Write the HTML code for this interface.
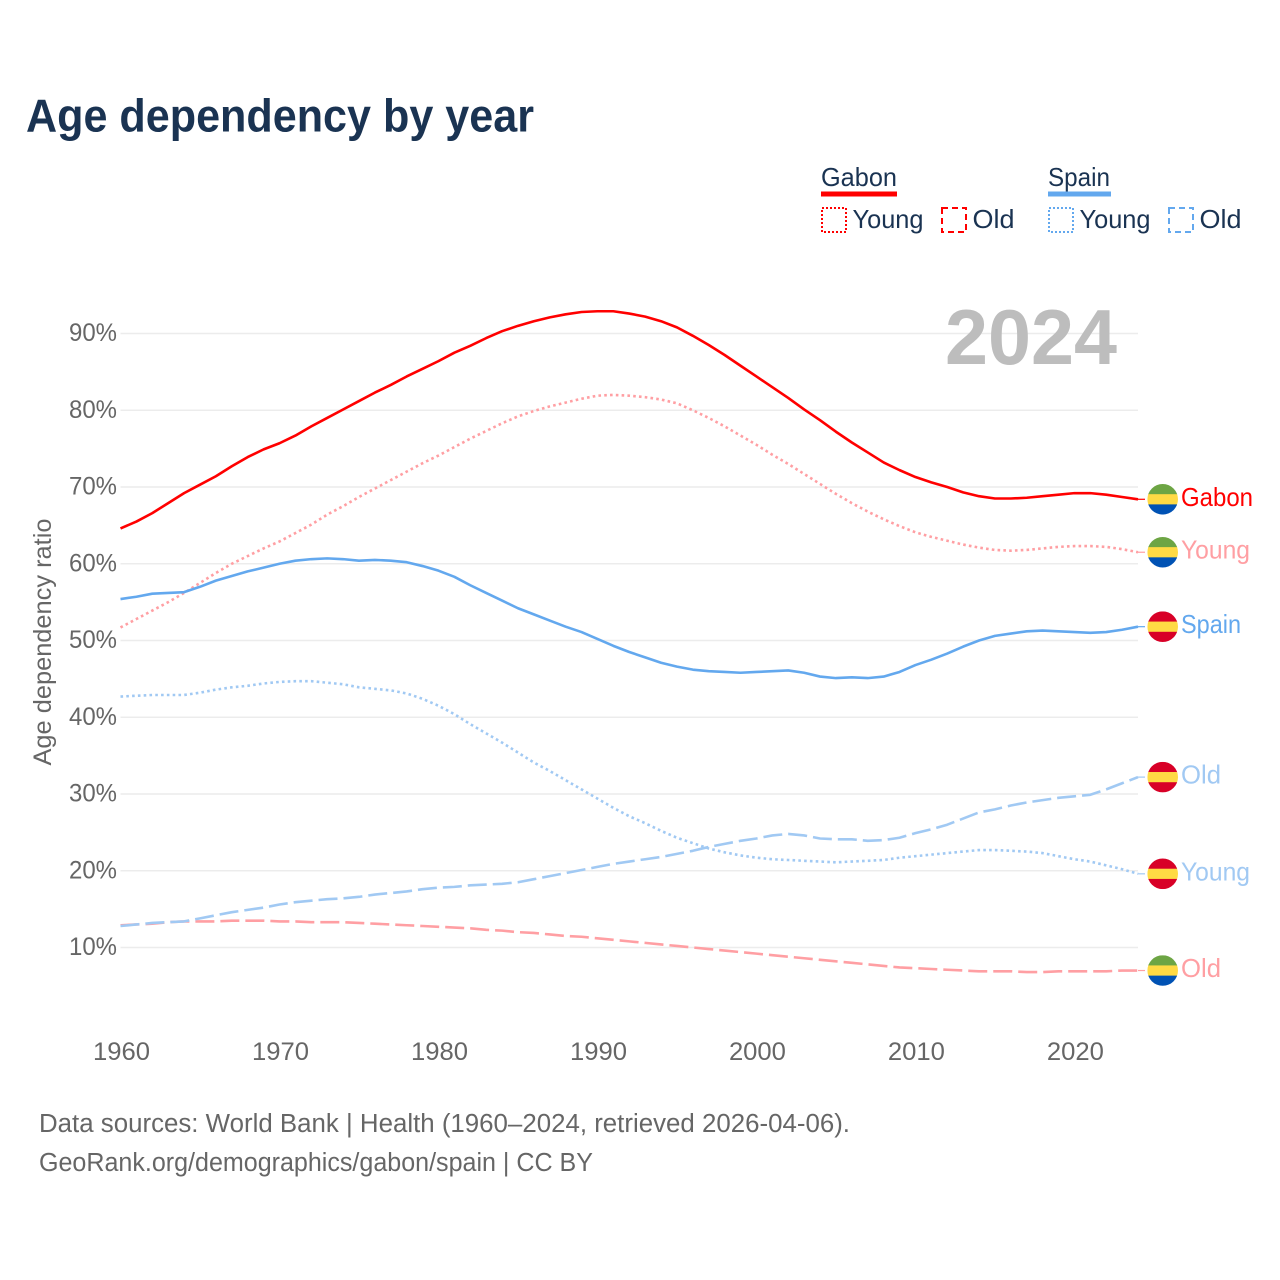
<!DOCTYPE html>
<html lang="en">
<head>
<meta charset="utf-8">
<title>Age dependency by year</title>
<style>
html,body{margin:0;padding:0;background:#fff;width:1280px;height:1280px;overflow:hidden}
svg{display:block}
text{font-family:"Liberation Sans",sans-serif}
</style>
</head>
<body>
<svg id="chart" xmlns="http://www.w3.org/2000/svg" width="1280" height="1280" viewBox="0 0 1280 1280">
  <rect width="1280" height="1280" fill="#fff"/>
  <text x="26" y="131.5" font-size="46" font-weight="700" fill="#1a3352" textLength="508" lengthAdjust="spacingAndGlyphs">Age dependency by year</text>

  <g>
    <text x="821" y="186" font-size="26" fill="#1a3352" textLength="76" lengthAdjust="spacingAndGlyphs">Gabon</text>
    <rect x="821" y="191.5" width="76" height="5" fill="#ff0000"/>
    <rect x="822" y="208" width="24" height="24" fill="none" stroke="#ff0000" stroke-width="2" stroke-dasharray="2 2"/>
    <text x="852.5" y="228" font-size="26" fill="#1a3352" textLength="71" lengthAdjust="spacingAndGlyphs">Young</text>
    <rect x="942" y="208" width="24" height="24" fill="none" stroke="#ff0000" stroke-width="2" stroke-dasharray="6 4"/>
    <text x="972.5" y="228" font-size="26" fill="#1a3352" textLength="42" lengthAdjust="spacingAndGlyphs">Old</text>

    <text x="1048" y="186" font-size="26" fill="#1a3352" textLength="62" lengthAdjust="spacingAndGlyphs">Spain</text>
    <rect x="1048" y="191.5" width="63" height="5" fill="#63a8ee"/>
    <rect x="1049" y="208" width="24" height="24" fill="none" stroke="#63a8ee" stroke-width="2" stroke-dasharray="2 2"/>
    <text x="1079.5" y="228" font-size="26" fill="#1a3352" textLength="71" lengthAdjust="spacingAndGlyphs">Young</text>
    <rect x="1169" y="208" width="24" height="24" fill="none" stroke="#63a8ee" stroke-width="2" stroke-dasharray="6 4"/>
    <text x="1199.5" y="228" font-size="26" fill="#1a3352" textLength="42" lengthAdjust="spacingAndGlyphs">Old</text>
  </g>

  <g id="grid"></g>
  <text x="945" y="364" font-size="78" font-weight="700" fill="#bdbdbd" textLength="172" lengthAdjust="spacingAndGlyphs">2024</text>
  <g id="yticks"></g>
  <g id="xticks"></g>
  <text transform="translate(51,642) rotate(-90)" text-anchor="middle" font-size="25" fill="#666666" textLength="247" lengthAdjust="spacingAndGlyphs">Age dependency ratio</text>
  <g id="series"></g>
  <g id="endmarks"></g>

  <text x="39" y="1132" font-size="25.5" fill="#666666" textLength="811" lengthAdjust="spacingAndGlyphs">Data sources: World Bank | Health (1960–2024, retrieved 2026-04-06).</text>
  <text x="39" y="1171" font-size="25.5" fill="#666666" textLength="554" lengthAdjust="spacingAndGlyphs">GeoRank.org/demographics/gabon/spain | CC BY</text>
</svg>
<script>
const firstYear = 1960;
const lastYear = 2024;
const yTickValues = [10, 20, 30, 40, 50, 60, 70, 80, 90];
const xTickYears = [1960, 1970, 1980, 1990, 2000, 2010, 2020];

const gabonTotal = [64.6,65.5,66.6,67.9,69.2,70.3,71.4,72.7,73.9,74.9,75.7,76.7,77.9,79.0,80.1,81.2,82.3,83.3,84.4,85.4,86.4,87.5,88.4,89.4,90.3,91.0,91.6,92.1,92.5,92.8,92.9,92.9,92.6,92.2,91.6,90.8,89.7,88.5,87.2,85.8,84.4,83.0,81.6,80.1,78.7,77.2,75.8,74.5,73.2,72.2,71.3,70.6,70.0,69.3,68.8,68.5,68.5,68.6,68.8,69.0,69.2,69.2,69.0,68.7,68.4];
const gabonYoung = [51.7,52.8,53.9,55.0,56.2,57.5,58.8,60.0,61.0,62.0,62.9,64.0,65.1,66.4,67.5,68.7,69.8,70.9,72.0,73.1,74.1,75.2,76.3,77.3,78.3,79.2,79.9,80.5,81.0,81.5,81.9,82.0,81.9,81.7,81.4,80.9,80.0,79.0,77.9,76.7,75.5,74.2,73.0,71.7,70.4,69.1,67.9,66.8,65.8,64.9,64.1,63.5,63.0,62.5,62.1,61.8,61.7,61.8,62.0,62.2,62.3,62.3,62.2,61.9,61.5];
const gabonOld = [12.9,13.0,13.1,13.3,13.4,13.4,13.4,13.5,13.5,13.5,13.4,13.4,13.3,13.3,13.3,13.2,13.1,13.0,12.9,12.8,12.7,12.6,12.5,12.3,12.2,12.0,11.9,11.7,11.5,11.4,11.2,11.0,10.8,10.6,10.4,10.2,10.0,9.8,9.6,9.4,9.2,9.0,8.8,8.6,8.4,8.2,8.0,7.8,7.6,7.4,7.3,7.2,7.1,7.0,6.9,6.9,6.9,6.8,6.8,6.9,6.9,6.9,6.9,7.0,7.0];
const spainTotal = [55.4,55.7,56.1,56.2,56.3,57.0,57.8,58.4,59.0,59.5,60.0,60.4,60.6,60.7,60.6,60.4,60.5,60.4,60.2,59.7,59.1,58.3,57.2,56.2,55.2,54.2,53.4,52.6,51.8,51.1,50.2,49.3,48.5,47.8,47.1,46.6,46.2,46.0,45.9,45.8,45.9,46.0,46.1,45.8,45.3,45.1,45.2,45.1,45.3,45.9,46.8,47.5,48.3,49.2,50.0,50.6,50.9,51.2,51.3,51.2,51.1,51.0,51.1,51.4,51.8];
const spainYoung = [42.7,42.8,42.9,42.9,42.9,43.2,43.6,43.9,44.1,44.4,44.6,44.7,44.7,44.5,44.3,43.9,43.7,43.5,43.1,42.4,41.5,40.4,39.1,37.9,36.7,35.4,34.1,33.0,31.8,30.6,29.4,28.2,27.1,26.2,25.2,24.3,23.6,22.9,22.4,22.0,21.7,21.5,21.4,21.3,21.2,21.1,21.2,21.3,21.4,21.7,21.9,22.1,22.3,22.5,22.7,22.7,22.6,22.5,22.3,21.9,21.5,21.2,20.7,20.2,19.6];
const spainOld = [12.8,13.0,13.2,13.3,13.4,13.8,14.2,14.6,14.9,15.2,15.6,15.9,16.1,16.3,16.4,16.6,16.9,17.1,17.3,17.6,17.8,17.9,18.1,18.2,18.3,18.5,18.9,19.3,19.7,20.1,20.5,20.9,21.2,21.5,21.8,22.2,22.6,23.1,23.5,23.9,24.2,24.6,24.8,24.6,24.2,24.1,24.1,23.9,24.0,24.3,24.9,25.4,26.0,26.8,27.6,28.0,28.5,28.9,29.2,29.5,29.7,29.9,30.6,31.4,32.2];

const NS = 'http://www.w3.org/2000/svg';
const xScale = function (year) { return 120.5 + (year - firstYear) * (1138 - 120.5) / (lastYear - firstYear); };
const yScale = function (value) { return 947.5 - (value - 10) * 7.675; };

function make(tag, attrs, parent) {
  const node = document.createElementNS(NS, tag);
  for (const key in attrs) node.setAttribute(key, attrs[key]);
  parent.appendChild(node);
  return node;
}

const gridGroup = document.getElementById('grid');
const yTickGroup = document.getElementById('yticks');
const xTickGroup = document.getElementById('xticks');
const seriesGroup = document.getElementById('series');
const endGroup = document.getElementById('endmarks');

yTickValues.forEach(function (value) {
  const line = make('line', { x1: 120.5, x2: 1138, y1: yScale(value), y2: yScale(value), stroke: '#ececec', 'stroke-width': 1.5 }, gridGroup);
  
  
  const label = make('text', { x: 117, y: yScale(value) + 7.5, 'text-anchor': 'end', 'font-size': 25, fill: '#666666', textLength: 48, lengthAdjust: 'spacingAndGlyphs' }, yTickGroup);
  label.textContent = value + '%';
  
  
});

xTickYears.forEach(function (year) {
  const label = make('text', { x: xScale(year) + 1, y: 1060, 'text-anchor': 'middle', 'font-size': 25, fill: '#666666', textLength: 57, lengthAdjust: 'spacingAndGlyphs' }, xTickGroup);
  label.textContent = String(year);
  
  
});

const RED = '#ff0000';
const BLUE = '#63a8ee';
const LIGHT_RED = '#ff9fa3';
const LIGHT_BLUE = '#a1c9f3';
const GABON_STRIPES = ['#6da544', '#ffda44', '#0052b4'];
const SPAIN_STRIPES = ['#d80027', '#ffda44', '#d80027'];

function drawSeries(values, color, dash, key) {
  const points = values.map(function (value, i) {
    return xScale(firstYear + i).toFixed(2) + ',' + yScale(value).toFixed(2);
  }).join(' ');
  const line = make('polyline', { points: points, fill: 'none', stroke: color, 'stroke-width': 2.6, 'stroke-linejoin': 'round', 'stroke-dasharray': dash }, seriesGroup);
  
  
}

function drawEnd(values, color, stripes, text, textWidth, key) {
  const last = values[values.length - 1];
  const cy = yScale(last);
  const cx = 1162.7;
  const r = 15.3;
  const connector = make('line', { x1: xScale(lastYear), x2: 1145, y1: cy, y2: cy, stroke: color, 'stroke-width': 1.2 }, endGroup);
  
  
  const clip = make('clipPath', { id: 'clip-' + key }, endGroup);
  make('circle', { cx: cx, cy: cy, r: r }, clip);
  const flag = make('g', { 'clip-path': 'url(#clip-' + key + ')' }, endGroup);
  
  
  stripes.forEach(function (fill, i) {
    make('rect', { x: cx - r, y: cy - r + i * (2 * r / 3), width: 2 * r, height: 2 * r / 3 + (i < 2 ? 0.4 : 0), fill: fill }, flag);
  });
  const label = make('text', { x: 1181, y: cy + 6.5, 'font-size': 26, fill: color, textLength: textWidth, lengthAdjust: 'spacingAndGlyphs' }, endGroup);
  label.textContent = text;
  
  
}

drawSeries(gabonYoung, LIGHT_RED, '2.6 3.2', 'gabon-young');
drawSeries(gabonOld, LIGHT_RED, '19 6', 'gabon-old');
drawSeries(spainYoung, LIGHT_BLUE, '2.6 3.2', 'spain-young');
drawSeries(spainOld, LIGHT_BLUE, '19 6', 'spain-old');
drawSeries(gabonTotal, RED, 'none', 'gabon-total');
drawSeries(spainTotal, BLUE, 'none', 'spain-total');

drawEnd(gabonTotal, RED, GABON_STRIPES, 'Gabon', 72, 'gabon-total');
drawEnd(gabonYoung, LIGHT_RED, GABON_STRIPES, 'Young', 69, 'gabon-young');
drawEnd(spainTotal, BLUE, SPAIN_STRIPES, 'Spain', 60, 'spain-total');
drawEnd(spainOld, LIGHT_BLUE, SPAIN_STRIPES, 'Old', 40, 'spain-old');
drawEnd(spainYoung, LIGHT_BLUE, SPAIN_STRIPES, 'Young', 69, 'spain-young');
drawEnd(gabonOld, LIGHT_RED, GABON_STRIPES, 'Old', 40, 'gabon-old');
</script>
</body>
</html>
